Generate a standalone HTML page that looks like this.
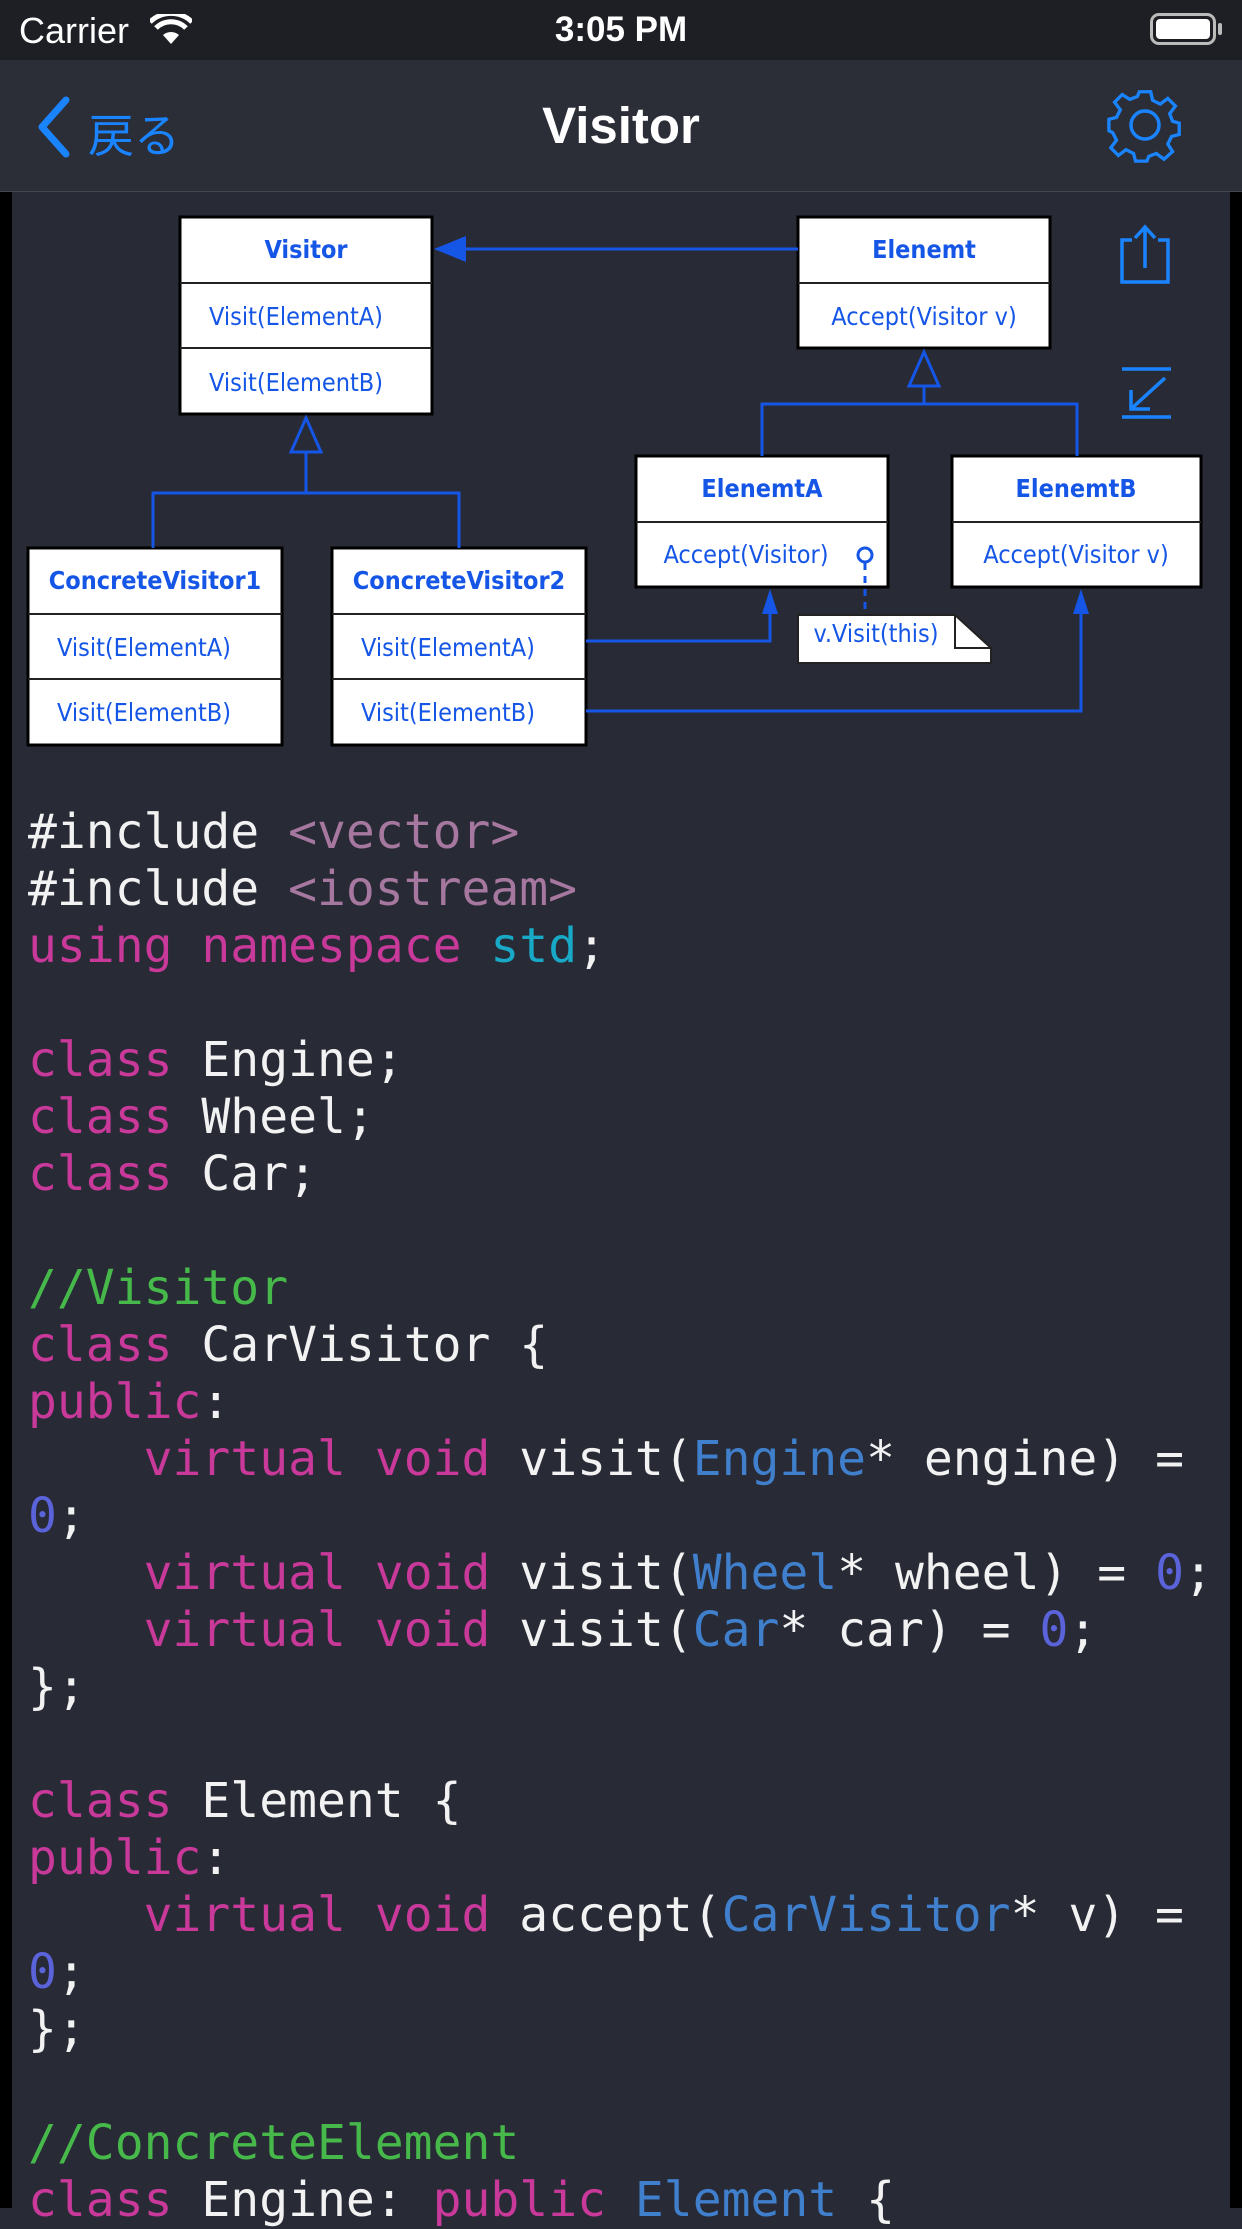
<!DOCTYPE html>
<html><head><meta charset="utf-8">
<style>
html,body{margin:0;padding:0;}
body{width:1242px;height:2208px;overflow:hidden;background:#282a36;position:relative;font-family:"Liberation Sans","Noto Sans CJK JP",sans-serif;}
#status{position:absolute;left:0;top:0;width:1242px;height:60px;background:#1e1f25;color:#fff;}
#nav{position:absolute;left:0;top:60px;width:1242px;height:131px;background:#2b2d37;border-bottom:1px solid #44464f;}
#lstrip{position:absolute;left:0;top:192px;width:12px;height:2016px;background:#000;}
#rstrip{position:absolute;left:1230px;top:192px;width:12px;height:2016px;background:#000;}
#code{position:absolute;left:28px;top:804px;margin:0;font-family:"DejaVu Sans Mono","Liberation Mono",monospace;font-size:48px;line-height:57px;color:#f2f2f2;white-space:pre;}
.k{color:#c8399a}.s{color:#a6789f}.t{color:#18a9c6}.c{color:#46b94a}.y{color:#3f7fcc}.n{color:#5b63da}
</style></head><body>
<div id="status">
<div style="position:absolute;left:19px;top:10px;font-size:36px;">Carrier</div>
<svg style="position:absolute;left:150px;top:14px" width="42" height="32" viewBox="0 0 42 32"><path d="M21 30 L13 21 A12 12 0 0 1 29 21 Z" fill="#fff"/><path d="M6 14 A21 21 0 0 1 36 14" stroke="#fff" stroke-width="5" fill="none"/><path d="M0 7 A30 30 0 0 1 42 7" stroke="#fff" stroke-width="5" fill="none" transform="translate(0,1)"/></svg>
<div style="position:absolute;left:0;width:1242px;text-align:center;top:10px;font-size:35px;font-weight:bold;">3:05 PM</div>
<div style="position:absolute;left:1150px;top:13px;width:66px;height:32px;border:3px solid #bbb;border-radius:9px;box-sizing:border-box;"><div style="margin:3px;height:20px;background:#fff;border-radius:4px;"></div></div>
<div style="position:absolute;left:1218px;top:23px;width:4px;height:12px;background:#bbb;border-radius:2px;"></div>
</div>
<div id="nav">
<svg style="position:absolute;left:36px;top:36px" width="36" height="62"><path d="M30 4 L6 31 L30 58" stroke="#1a84ff" stroke-width="7" fill="none" stroke-linecap="round" stroke-linejoin="round"/></svg>
<div style="position:absolute;left:88px;top:40px;font-size:46px;color:#1a84ff;">戻る</div>
<div style="position:absolute;left:0;width:1242px;text-align:center;top:36px;font-size:51px;font-weight:bold;color:#fff;">Visitor</div>
<svg style="position:absolute;left:1105px;top:25px" width="80" height="80" viewBox="-40 -40 80 80">
<g fill="none" stroke="#1a84ff" stroke-width="3.5">
<path d="M-6 -35 L6 -35 L8 -26 L16 -22 L24 -28 L32 -20 L26 -12 L29 -4 L36 -2 L36 10 L28 12 L24 20 L29 28 L20 36 L12 30 L4 33 L2 38 L-10 38 L-12 30 L-20 26 L-28 32 L-36 24 L-30 16 L-34 8 L-38 6 L-38 -6 L-30 -8 L-26 -16 L-32 -24 L-24 -32 L-16 -27 L-8 -30 Z" transform="scale(0.95)"/>
<circle r="14"/></g></svg>
</div>
<div id="lstrip"></div><div id="rstrip"></div>

<svg style="position:absolute;left:0;top:0" width="1242" height="800" font-family="DejaVu Sans Condensed, DejaVu Sans, sans-serif">
<g fill="#fff" stroke="#000" stroke-width="3">
<rect x="180" y="217" width="252" height="197"/>
<rect x="798" y="217" width="252" height="131"/>
<rect x="636" y="456" width="252" height="131"/>
<rect x="952" y="456" width="249" height="131"/>
<rect x="28" y="548" width="254" height="197"/>
<rect x="332" y="548" width="254" height="197"/>
</g>
<g stroke="#222" stroke-width="2">
<line x1="180" y1="283" x2="432" y2="283"/><line x1="180" y1="348" x2="432" y2="348"/>
<line x1="798" y1="283" x2="1050" y2="283"/>
<line x1="636" y1="522" x2="888" y2="522"/>
<line x1="952" y1="522" x2="1201" y2="522"/>
<line x1="28" y1="614" x2="282" y2="614"/><line x1="28" y1="679" x2="282" y2="679"/>
<line x1="332" y1="614" x2="586" y2="614"/><line x1="332" y1="679" x2="586" y2="679"/>
</g>
<path d="M798 615 L955 615 L991 648 L991 663 L798 663 Z" fill="#fff" stroke="#222" stroke-width="2"/>
<path d="M955 615 L955 648 L991 648" fill="none" stroke="#222" stroke-width="2"/>
<g fill="#1556e6" font-size="25" text-anchor="middle">
<text x="306" y="258" font-weight="bold">Visitor</text>
<text x="296" y="325">Visit(ElementA)</text>
<text x="296" y="391">Visit(ElementB)</text>
<text x="924" y="258" font-weight="bold">Elenemt</text>
<text x="924" y="325">Accept(Visitor v)</text>
<text x="762" y="497" font-weight="bold">ElenemtA</text>
<text x="746" y="563">Accept(Visitor)</text>
<text x="1076" y="497" font-weight="bold">ElenemtB</text>
<text x="1076" y="563">Accept(Visitor v)</text>
<text x="155" y="589" font-weight="bold">ConcreteVisitor1</text>
<text x="144" y="656">Visit(ElementA)</text>
<text x="144" y="721">Visit(ElementB)</text>
<text x="459" y="589" font-weight="bold">ConcreteVisitor2</text>
<text x="448" y="656">Visit(ElementA)</text>
<text x="448" y="721">Visit(ElementB)</text>
<text x="876" y="642" text-anchor="middle">v.Visit(this)</text>
</g>
<g stroke="#1556e6" stroke-width="3" fill="none">
<line x1="798" y1="249" x2="462" y2="249"/>
<line x1="306" y1="452" x2="306" y2="493"/><path d="M153 548 V493 H459 V548"/>
<path d="M306 418 L291 452 L321 452 Z"/>
<line x1="924" y1="386" x2="924" y2="404"/><path d="M762 456 V404 H1077 V456"/>
<path d="M924 352 L909 386 L939 386 Z"/>
<path d="M586 641 H770 V610"/>
<path d="M586 711 H1081 V610"/>
<circle cx="865" cy="555" r="7"/>
<line x1="865" y1="563" x2="865" y2="615" stroke-dasharray="7 6"/>
</g>
<g fill="#1556e6">
<path d="M434 249 L466 236 L466 262 Z"/>
<path d="M770 589 L762 614 L778 614 Z"/>
<path d="M1081 589 L1073 614 L1089 614 Z"/>
</g>
<g stroke="#1a84ff" stroke-width="3.5" fill="none">
<path d="M1132 240 H1122 V282 H1168 V240 H1158"/><path d="M1145 268 V228 M1135 238 L1145 227 L1155 238"/>
<line x1="1122" y1="369" x2="1171" y2="369"/><line x1="1122" y1="417" x2="1171" y2="417"/>
<path d="M1165 378 L1132 408 M1131 390 V409 H1150"/>
</g>
</svg>

<pre id="code">#include <span class="s">&lt;vector&gt;</span>
#include <span class="s">&lt;iostream&gt;</span>
<span class="k">using</span> <span class="k">namespace</span> <span class="t">std</span>;

<span class="k">class</span> Engine;
<span class="k">class</span> Wheel;
<span class="k">class</span> Car;

<span class="c">//Visitor</span>
<span class="k">class</span> CarVisitor {
<span class="k">public</span>:
    <span class="k">virtual</span> <span class="k">void</span> visit(<span class="y">Engine</span>* engine) =
<span class="n">0</span>;
    <span class="k">virtual</span> <span class="k">void</span> visit(<span class="y">Wheel</span>* wheel) = <span class="n">0</span>;
    <span class="k">virtual</span> <span class="k">void</span> visit(<span class="y">Car</span>* car) = <span class="n">0</span>;
};

<span class="k">class</span> Element {
<span class="k">public</span>:
    <span class="k">virtual</span> <span class="k">void</span> accept(<span class="y">CarVisitor</span>* v) =
<span class="n">0</span>;
};

<span class="c">//ConcreteElement</span>
<span class="k">class</span> Engine: <span class="k">public</span> <span class="y">Element</span> {
</pre>
</body></html>
